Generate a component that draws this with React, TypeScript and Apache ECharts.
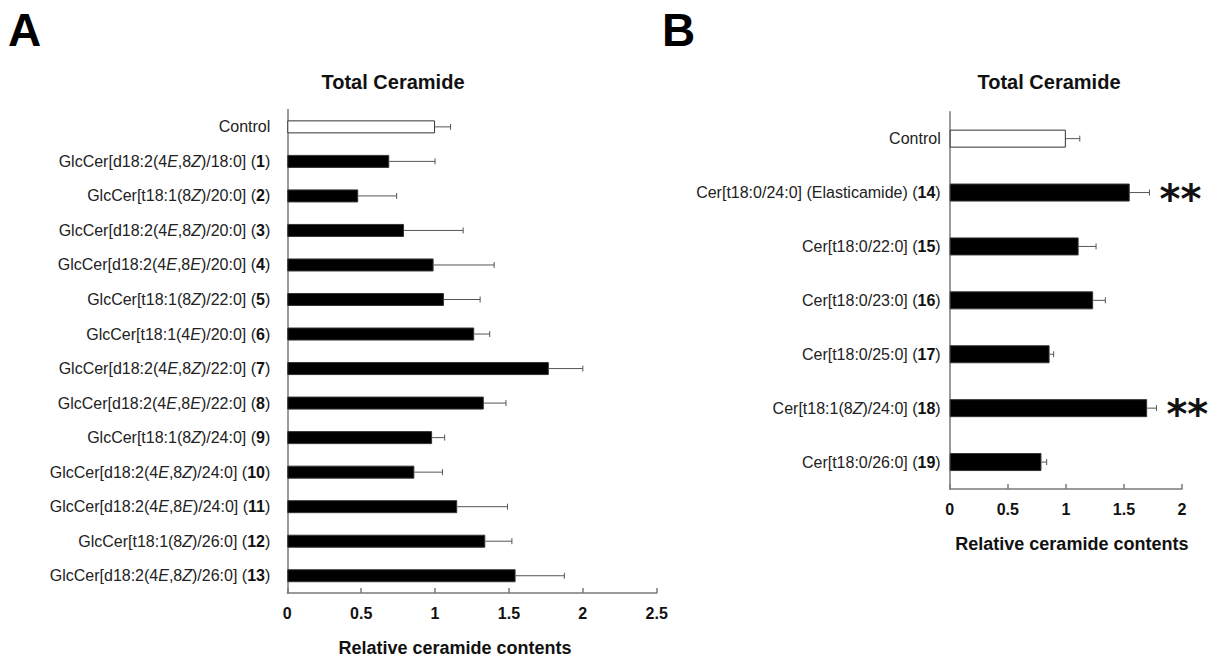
import React, { useEffect, useRef } from "react";
import * as echarts from "echarts";

const categoriesA = [
  "Control",
  "GlcCer[d18:2(4E,8Z)/18:0] (1)",
  "GlcCer[t18:1(8Z)/20:0] (2)",
  "GlcCer[d18:2(4E,8Z)/20:0] (3)",
  "GlcCer[d18:2(4E,8E)/20:0] (4)",
  "GlcCer[t18:1(8Z)/22:0] (5)",
  "GlcCer[t18:1(4E)/20:0] (6)",
  "GlcCer[d18:2(4E,8Z)/22:0] (7)",
  "GlcCer[d18:2(4E,8E)/22:0] (8)",
  "GlcCer[t18:1(8Z)/24:0] (9)",
  "GlcCer[d18:2(4E,8Z)/24:0] (10)",
  "GlcCer[d18:2(4E,8E)/24:0] (11)",
  "GlcCer[t18:1(8Z)/26:0] (12)",
  "GlcCer[d18:2(4E,8Z)/26:0] (13)",
];
const valuesA = [1.0, 0.69, 0.48, 0.79, 0.99, 1.06, 1.265, 1.77, 1.33, 0.98, 0.86, 1.15, 1.34, 1.545];
const errorsA = [0.105, 0.31, 0.26, 0.4, 0.41, 0.245, 0.105, 0.23, 0.15, 0.085, 0.19, 0.34, 0.18, 0.33];

const categoriesB = [
  "Control",
  "Cer[t18:0/24:0] (Elasticamide) (14)",
  "Cer[t18:0/22:0] (15)",
  "Cer[t18:0/23:0] (16)",
  "Cer[t18:0/25:0] (17)",
  "Cer[t18:1(8Z)/24:0] (18)",
  "Cer[t18:0/26:0] (19)",
];
const valuesB = [1.0, 1.55, 1.11, 1.235, 0.86, 1.7, 0.79];
const errorsB = [0.12, 0.17, 0.15, 0.105, 0.035, 0.08, 0.045];
const significanceB = ["", "**", "", "", "", "**", ""];

const axisMaxA = 2.5;
const axisMaxB = 2;
const tickStep = 0.5;
const panelTitle = "Total Ceramide";
const axisTitle = "Relative ceramide contents";

const FONT = '"Liberation Sans", Arial, Helvetica, sans-serif';
const LABEL_COLOR = "#222";
const AXIS_COLOR = "#7a7a7a";

const richStyles = {
  i: { fontStyle: "italic", fontSize: 16, fontFamily: FONT, color: LABEL_COLOR },
  b: { fontWeight: "bold", fontSize: 16, fontFamily: FONT, color: "#111" },
};

function formatCategory(s: string) {
  return s
    .replace(/(\d)([EZ])(?=[,)])/g, "$1{i|$2}")
    .replace(/\((\d+)\)$/, "({b|$1})");
}

function barData(values: number[]) {
  return values.map((v, i) => ({
    value: v,
    itemStyle:
      i === 0
        ? { color: "#ffffff", borderColor: "#333", borderWidth: 1 }
        : { color: "#000000", borderColor: "#333", borderWidth: 1 },
  }));
}

function errorRender(params: any, api: any) {
  const v = api.value(0);
  const idx = api.value(1);
  const err = api.value(2);
  const sig = api.value(3);
  const start = api.coord([v, idx]);
  const end = api.coord([v + err, idx]);
  const children: any[] = [
    {
      type: "line",
      shape: { x1: start[0], y1: start[1], x2: end[0], y2: end[1] },
      style: { stroke: "#555", lineWidth: 1 },
    },
    {
      type: "line",
      shape: { x1: end[0], y1: end[1] - 3, x2: end[0], y2: end[1] + 3 },
      style: { stroke: "#555", lineWidth: 1 },
    },
  ];
  if (sig) {
    children.push({
      type: "text",
      x: end[0] + 10,
      y: end[1] + 6,
      style: {
        text: sig,
        font: 'bold 40px "DejaVu Sans", sans-serif',
        fill: "#111",
        align: "left",
        verticalAlign: "middle",
      },
    });
  }
  return { type: "group", children };
}

export default function App() {
  const ref = useRef<HTMLDivElement>(null);
  useEffect(() => {
    if (!ref.current) return;
    const chart = echarts.init(ref.current, undefined, { renderer: "svg" });

    const xAxisCommon = (max: number, gridIndex: number, pad: number[]) => ({
      type: "value",
      gridIndex,
      min: 0,
      max,
      interval: tickStep,
      splitLine: { show: false },
      axisLine: { show: true, lineStyle: { color: AXIS_COLOR, width: 1.5 } },
      axisTick: { show: true, inside: true, length: 5, lineStyle: { color: AXIS_COLOR, width: 1.5 } },
      axisLabel: {
        show: true,
        margin: 12,
        fontSize: 16,
        fontWeight: "bold",
        fontFamily: FONT,
        color: "#111",
        showMinLabel: true,
        showMaxLabel: true,
      },
      name: axisTitle,
      nameLocation: "middle",
      nameGap: 46,
      nameTextStyle: {
        fontSize: 18,
        fontWeight: "bold",
        fontFamily: FONT,
        color: "#111",
        padding: pad,
      },
    });

    const yAxisCommon = (cats: string[], gridIndex: number, margin: number) => ({
      type: "category",
      gridIndex,
      data: cats,
      inverse: true,
      axisLine: { show: true, lineStyle: { color: AXIS_COLOR, width: 1.5 } },
      axisTick: { show: false },
      splitLine: { show: false },
      axisLabel: {
        show: true,
        interval: 0,
        margin,
        fontSize: 16,
        fontFamily: FONT,
        color: LABEL_COLOR,
        formatter: formatCategory,
        rich: richStyles,
      },
    });

    chart.setOption({
      animation: false,
      backgroundColor: "#ffffff",
      grid: [
        { left: 287.3, top: 109.6, width: 369.4, height: 487.8, containLabel: false },
        { left: 949.7, top: 111.7, width: 232.3, height: 377.3, containLabel: false },
      ],
      xAxis: [xAxisCommon(axisMaxA, 0, [0, 34, 0, 0]), xAxisCommon(axisMaxB, 1, [0, 0, 0, 12])],
      yAxis: [yAxisCommon(categoriesA, 0, 17), yAxisCommon(categoriesB, 1, 9)],
      graphic: [
        {
          type: "text",
          x: 8,
          y: 30,
          style: { text: "A", font: `bold 46px ${FONT}`, fill: "#000", align: "left", verticalAlign: "middle" },
        },
        {
          type: "text",
          x: 662,
          y: 30,
          style: { text: "B", font: `bold 46px ${FONT}`, fill: "#000", align: "left", verticalAlign: "middle" },
        },
        {
          type: "text",
          x: 393,
          y: 82,
          style: { text: panelTitle, font: `bold 20px ${FONT}`, fill: "#111", align: "center", verticalAlign: "middle" },
        },
        {
          type: "text",
          x: 1049,
          y: 82,
          style: { text: panelTitle, font: `bold 20px ${FONT}`, fill: "#111", align: "center", verticalAlign: "middle" },
        },
      ],
      series: [
        {
          type: "bar",
          xAxisIndex: 0,
          yAxisIndex: 0,
          barWidth: 13,
          data: barData(valuesA),
        },
        {
          type: "custom",
          xAxisIndex: 0,
          yAxisIndex: 0,
          renderItem: errorRender,
          encode: { x: 0, y: 1 },
          data: valuesA.map((v, i) => [v, i, errorsA[i], ""]),
          z: 3,
        },
        {
          type: "bar",
          xAxisIndex: 1,
          yAxisIndex: 1,
          barWidth: 18,
          data: barData(valuesB),
        },
        {
          type: "custom",
          xAxisIndex: 1,
          yAxisIndex: 1,
          renderItem: errorRender,
          encode: { x: 0, y: 1 },
          data: valuesB.map((v, i) => [v, i, errorsB[i], significanceB[i]]),
          z: 3,
        },
      ],
    });
    return () => chart.dispose();
  }, []);
  return (
    <div
      ref={ref}
      style={{ position: "absolute", left: 0, top: 0, width: 1218, height: 662, background: "#fff" }}
    />
  );
}
